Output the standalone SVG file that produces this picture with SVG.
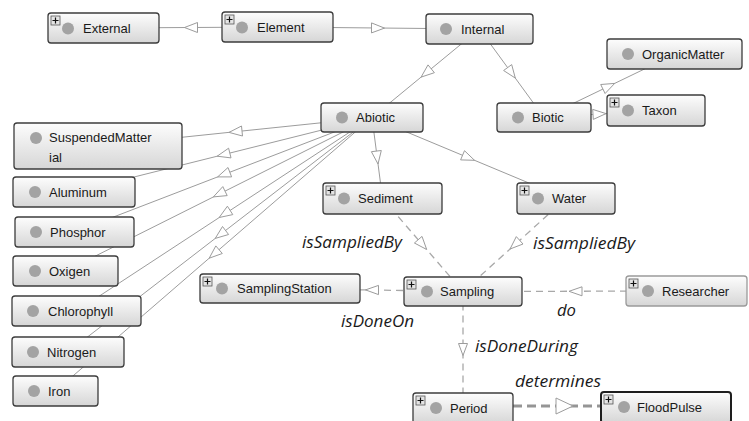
<svg xmlns="http://www.w3.org/2000/svg" width="749" height="421" viewBox="0 0 749 421">
<defs>
<linearGradient id="g" x1="0" y1="0" x2="0" y2="1">
<stop offset="0" stop-color="#fdfdfd"/>
<stop offset="1" stop-color="#d6d6d6"/>
</linearGradient>
<style>
.box{fill:url(#g);stroke:#3c3c3c;stroke-width:1.3}
.faint{stroke:#9a9a9a}
.strong{stroke:#1e1e1e;stroke-width:2}
.dot{fill:#a3a3a3}
.t{font-family:"Liberation Sans",Arial,sans-serif;font-size:13px;fill:#1a1a1a}
.pl{fill:#e4e4e4;stroke:#555;stroke-width:0.8}
.plx{stroke:#111;stroke-width:1.2}
.e{stroke:#9c9c9c;stroke-width:1;fill:none}
.d{stroke:#a8a8a8;stroke-width:1.3;fill:none;stroke-dasharray:7 5}
.dk{stroke:#959595;stroke-width:3;fill:none;stroke-dasharray:9 5}
.ah{fill:#fff;stroke:#9c9c9c;stroke-width:1}
.lab{font-family:"Open Sans","DejaVu Sans",sans-serif;font-style:italic;font-size:16px;fill:#1a1a1a}
</style>
</defs>
<rect width="749" height="421" fill="#fff"/>
<g id="connectors">
<line class="e" x1="277.5" y1="27" x2="103.5" y2="28"/>
<polygon class="ah" points="184.5,27.5 197.5,22.5 197.5,32.5"/>
<line class="e" x1="277.5" y1="27" x2="479.5" y2="29"/>
<polygon class="ah" points="384.5,28.1 371.5,22.9 371.5,32.9"/>
<line class="e" x1="479.5" y1="29" x2="372" y2="117.5"/>
<polygon class="ah" points="421.1,77.1 428,64.9 434.4,72.7"/>
<line class="e" x1="479.5" y1="29" x2="544" y2="117.5"/>
<polygon class="ah" points="515.3,78.1 503.6,70.5 511.7,64.6"/>
<line class="e" x1="544" y1="117.5" x2="674.5" y2="54.5"/>
<polygon class="ah" points="614.7,83.4 605.1,93.5 600.7,84.5"/>
<line class="e" x1="544" y1="117.5" x2="656" y2="110.5"/>
<polygon class="ah" points="606,113.6 593.3,119.4 592.7,109.4"/>
<line class="e" x1="372" y1="117.5" x2="382.5" y2="198.5"/>
<polygon class="ah" points="378,164 371.4,151.7 381.3,150.5"/>
<line class="e" x1="372" y1="117.5" x2="566" y2="198.5"/>
<polygon class="ah" points="474.5,160.3 460.6,159.9 464.5,150.7"/>
<line class="e" x1="372" y1="117.5" x2="98" y2="146"/>
<polygon class="ah" points="229,132.4 241.5,126 242.5,136"/>
<line class="e" x1="372" y1="117.5" x2="74" y2="192"/>
<polygon class="ah" points="217.2,156.2 228.6,148.2 231,157.9"/>
<line class="e" x1="372" y1="117.5" x2="74.5" y2="232"/>
<polygon class="ah" points="217.65,176.9 228,167.5 231.6,176.9"/>
<line class="e" x1="372" y1="117.5" x2="65.5" y2="271"/>
<polygon class="ah" points="213.4,196.9 222.8,186.6 227.2,195.6"/>
<line class="e" x1="372" y1="117.5" x2="76.5" y2="311"/>
<polygon class="ah" points="219.2,217.5 227.4,206.2 232.8,214.6"/>
<line class="e" x1="372" y1="117.5" x2="68" y2="352"/>
<polygon class="ah" points="215.25,238.4 222.5,226.5 228.6,234.5"/>
<line class="e" x1="372" y1="117.5" x2="55.5" y2="391"/>
<polygon class="ah" points="209.2,258.2 215.8,245.9 222.3,253.5"/>
<line class="d" x1="382.5" y1="198.5" x2="463" y2="291.5"/>
<polygon class="ah" points="426.7,249.5 414.4,243 422,236.4"/>
<line class="d" x1="566" y1="198.5" x2="463" y2="291.5"/>
<polygon class="ah" points="510.05,249 516.3,236.6 523,244"/>
<line class="d" x1="463" y1="291.5" x2="280" y2="288.5"/>
<polygon class="ah" points="365.5,289.9 378.5,285.4 378.5,294.6"/>
<line class="d" x1="687" y1="291" x2="463" y2="291.5"/>
<polygon class="ah" points="569,291.3 582,286.8 582,295.8"/>
<line class="d" x1="463" y1="291.5" x2="463" y2="407"/>
<polygon class="ah" points="463,355.5 458.5,343.5 467.5,343.5"/>
<line class="dk" x1="513" y1="406" x2="601" y2="406"/>
<polygon class="ah" points="573,406 556,398 556,414"/>
<text class="lab" x="302" y="248" textLength="100" lengthAdjust="spacingAndGlyphs">isSampliedBy</text>
<text class="lab" x="533" y="249" textLength="102" lengthAdjust="spacingAndGlyphs">isSampliedBy</text>
<text class="lab" x="341" y="327" textLength="73" lengthAdjust="spacingAndGlyphs">isDoneOn</text>
<text class="lab" x="557" y="316" textLength="19" lengthAdjust="spacingAndGlyphs">do</text>
<text class="lab" x="475" y="352" textLength="103" lengthAdjust="spacingAndGlyphs">isDoneDuring</text>
<text class="lab" x="515" y="387" textLength="86" lengthAdjust="spacingAndGlyphs">determines</text>
</g>
<g id="External"><rect class="box" x="48" y="13" width="111" height="30" rx="3"/><rect class="pl" x="51" y="16" width="9" height="9"/><path class="plx" d="M52.5,20.5h6M55.5,17.5v6"/><circle class="dot" cx="68" cy="28.5" r="6"/><text class="t" x="83" y="33">External</text></g>
<g id="Element"><rect class="box" x="222" y="12" width="111" height="30" rx="3"/><rect class="pl" x="225" y="15" width="9" height="9"/><path class="plx" d="M226.5,19.5h6M229.5,16.5v6"/><circle class="dot" cx="242" cy="27.5" r="6"/><text class="t" x="257" y="32">Element</text></g>
<g id="Internal"><rect class="box" x="426" y="14" width="107" height="30" rx="3"/><circle class="dot" cx="446" cy="29" r="6"/><text class="t" x="461" y="34">Internal</text></g>
<g id="OrganicMatter"><rect class="box" x="607" y="39" width="135" height="30" rx="3"/><circle class="dot" cx="628" cy="54" r="6"/><text class="t" x="642" y="59">OrganicMatter</text></g>
<g id="Taxon"><rect class="box" x="607" y="95" width="98" height="31" rx="3"/><rect class="pl" x="610" y="98" width="9" height="9"/><path class="plx" d="M611.5,102.5h6M614.5,99.5v6"/><circle class="dot" cx="628" cy="110.5" r="6"/><text class="t" x="642" y="115">Taxon</text></g>
<g id="Biotic"><rect class="box" x="497" y="103" width="94" height="29" rx="3"/><circle class="dot" cx="518" cy="117.5" r="6"/><text class="t" x="532" y="122">Biotic</text></g>
<g id="Abiotic"><rect class="box" x="321" y="103" width="102" height="29" rx="3"/><circle class="dot" cx="342" cy="117.5" r="6"/><text class="t" x="356" y="122">Abiotic</text></g>
<g id="Sediment"><rect class="box" x="323" y="183" width="119" height="31" rx="3"/><rect class="pl" x="326" y="186" width="9" height="9"/><path class="plx" d="M327.5,190.5h6M330.5,187.5v6"/><circle class="dot" cx="344" cy="198.5" r="6"/><text class="t" x="358" y="203">Sediment</text></g>
<g id="Water"><rect class="box" x="517" y="183" width="98" height="31" rx="3"/><rect class="pl" x="520" y="186" width="9" height="9"/><path class="plx" d="M521.5,190.5h6M524.5,187.5v6"/><circle class="dot" cx="538" cy="198.5" r="6"/><text class="t" x="552" y="203">Water</text></g>
<g id="SuspendedMatterial"><rect class="box" x="14" y="123" width="168" height="46" rx="3"/><circle class="dot" cx="36" cy="138" r="6"/><text class="t" x="49" y="142">SuspendedMatter</text><text class="t" x="49" y="162">ial</text></g>
<g id="Aluminum"><rect class="box" x="13" y="177" width="122" height="30" rx="3"/><circle class="dot" cx="35" cy="192" r="6"/><text class="t" x="49" y="197">Aluminum</text></g>
<g id="Phosphor"><rect class="box" x="15" y="217" width="119" height="30" rx="3"/><circle class="dot" cx="36" cy="232" r="6"/><text class="t" x="50" y="237">Phosphor</text></g>
<g id="Oxigen"><rect class="box" x="13" y="256" width="105" height="30" rx="3"/><circle class="dot" cx="35" cy="271" r="6"/><text class="t" x="49" y="276">Oxigen</text></g>
<g id="Chlorophyll"><rect class="box" x="12" y="296" width="129" height="30" rx="3"/><circle class="dot" cx="33" cy="311" r="6"/><text class="t" x="48" y="316">Chlorophyll</text></g>
<g id="Nitrogen"><rect class="box" x="12" y="337" width="112" height="30" rx="3"/><circle class="dot" cx="33" cy="352" r="6"/><text class="t" x="47" y="357">Nitrogen</text></g>
<g id="Iron"><rect class="box" x="13" y="376" width="85" height="30" rx="3"/><circle class="dot" cx="34" cy="391" r="6"/><text class="t" x="48" y="396">Iron</text></g>
<g id="SamplingStation"><rect class="box" x="200" y="274" width="160" height="29" rx="3"/><rect class="pl" x="203" y="277" width="9" height="9"/><path class="plx" d="M204.5,281.5h6M207.5,278.5v6"/><circle class="dot" cx="222" cy="288.5" r="6"/><text class="t" x="237" y="293">SamplingStation</text></g>
<g id="Sampling"><rect class="box" x="404" y="277" width="118" height="29" rx="3"/><rect class="pl" x="407" y="280" width="9" height="9"/><path class="plx" d="M408.5,284.5h6M411.5,281.5v6"/><circle class="dot" cx="427" cy="291.5" r="6"/><text class="t" x="440" y="296">Sampling</text></g>
<g id="Researcher"><rect class="box faint" x="626" y="276" width="121" height="30" rx="3"/><rect class="pl" x="629" y="279" width="9" height="9"/><path class="plx" d="M630.5,283.5h6M633.5,280.5v6"/><circle class="dot" cx="648" cy="291" r="6"/><text class="t" x="662" y="296">Researcher</text></g>
<g id="Period"><rect class="box" x="413" y="393" width="100" height="31" rx="3"/><rect class="pl" x="416" y="396" width="9" height="9"/><path class="plx" d="M417.5,400.5h6M420.5,397.5v6"/><circle class="dot" cx="436" cy="408" r="6"/><text class="t" x="450" y="413">Period</text></g>
<g id="FloodPulse"><rect class="box strong" x="601" y="392" width="130" height="31" rx="3"/><rect class="pl" x="604" y="395" width="9" height="9"/><path class="plx" d="M605.5,399.5h6M608.5,396.5v6"/><circle class="dot" cx="624" cy="407" r="6"/><text class="t" x="637" y="412">FloodPulse</text></g>
</svg>
